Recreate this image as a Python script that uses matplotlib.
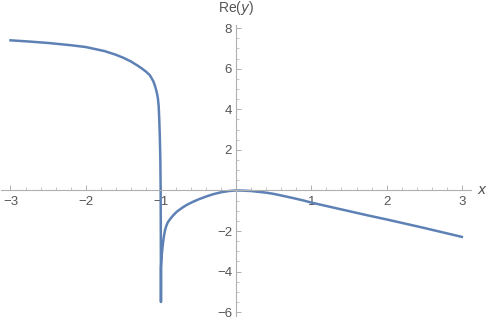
import matplotlib.pyplot as plt
from matplotlib.ticker import MultipleLocator, FuncFormatter

plt.rcParams['font.family'] = ['Liberation Sans', 'DejaVu Sans']

# points (x, Re(y))
x_vals = [-3.0, -2.75, -2.5, -2.2, -2.0, -1.75, -1.6, -1.5, -1.4, -1.3, -1.25,
          -1.2, -1.15, -1.13, -1.1, -1.08, -1.065, -1.05, -1.04, -1.03,
          -1.023, -1.015, -1.008, -1.004, -1.002, -1.0,
          -0.999, -0.995, -0.99, -0.985, -0.978, -0.97, -0.96, -0.947, -0.93,
          -0.91, -0.88, -0.84, -0.79, -0.72, -0.66, -0.58, -0.5, -0.4, -0.3,
          -0.2, -0.1, 0.0,
          0.1, 0.2, 0.3, 0.4, 0.5, 0.6, 0.75, 0.9, 1.0, 1.25, 1.5, 1.75, 2.0,
          2.5, 3.0]
re_y = [7.40, 7.34, 7.27, 7.16, 7.07, 6.87, 6.69, 6.54, 6.36, 6.13, 6.00,
        5.86, 5.69, 5.57, 5.37, 5.16, 4.97, 4.74, 4.52, 4.15,
        3.55, 2.65, 1.5, 0.0, -2.0, -5.5,
        -3.8, -3.55, -3.25, -3.02, -2.78, -2.52, -2.25, -1.98, -1.76,
        -1.58, -1.42, -1.24, -1.05, -0.86, -0.72, -0.57, -0.44, -0.30, -0.18,
        -0.09, -0.03, 0.0,
        -0.01, -0.03, -0.07, -0.11, -0.17, -0.25, -0.37, -0.50, -0.60, -0.81,
        -1.02, -1.23, -1.43, -1.85, -2.29]

x_ticks = [-3, -2, -1, 1, 2, 3]
y_ticks = [-6, -4, -2, 2, 4, 6, 8]

axis_grey = "#b0b0b0"
text_grey = "#555555"

fig = plt.figure(figsize=(4.91, 3.22), dpi=100)
ax = fig.add_axes([0.003, 0.018, 0.956, 0.904])

ax.plot(x_vals, re_y, color="#5E81B5", lw=1.8, solid_joinstyle="round")

ax.set_xlim(-3.12, 3.12)
ax.set_ylim(-6.2, 8.15)

for side in ["top", "right"]:
    ax.spines[side].set_visible(False)
for side in ["left", "bottom"]:
    ax.spines[side].set_position(("data", 0))
    ax.spines[side].set_color(axis_grey)
    ax.spines[side].set_linewidth(0.8)

ax.set_xticks(x_ticks)
ax.set_yticks(y_ticks)
ax.xaxis.set_minor_locator(MultipleLocator(0.2))
ax.yaxis.set_minor_locator(MultipleLocator(0.5))
fmt = FuncFormatter(lambda v, p: f"{v:g}".replace("-", "\u2212"))
ax.xaxis.set_major_formatter(fmt)
ax.yaxis.set_major_formatter(fmt)

ax.tick_params(which="both", direction="in", colors=axis_grey,
               labelcolor=text_grey, labelsize=9.5)
ax.tick_params(which="major", length=3.5, width=0.7)
ax.tick_params(which="minor", length=2, width=0.5)
ax.tick_params(axis="x", pad=4)
ax.tick_params(axis="y", pad=3)

ax.text(3.2, 0, "$x$", color=text_grey, fontsize=10, ha="left", va="center",
        clip_on=False)
ax.text(0, 8.55, "Re($y$)", color=text_grey, fontsize=10, ha="center",
        va="bottom", clip_on=False)

fig.savefig("out.png", dpi=100)
